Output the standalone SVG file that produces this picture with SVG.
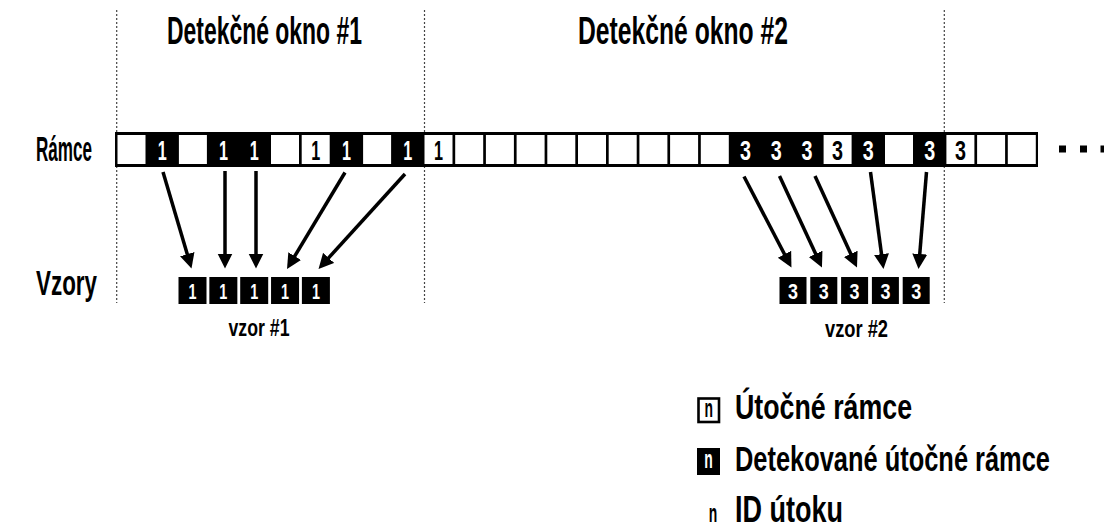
<svg xmlns="http://www.w3.org/2000/svg" width="1104" height="529" viewBox="0 0 1104 529">
  <style>
    .lbl { font-family: "Liberation Sans", Arial, sans-serif; font-weight: bold; fill: #000; }
    .title { font-size: 38px; }
    .row { font-size: 35px; }
    .leg { font-size: 36px; }
    .cap { font-size: 23px; }
    .n { font-size: 25px; text-anchor: middle; }
    .dig { font-family: "Liberation Sans", Arial, sans-serif; font-weight: bold; font-size: 28px; text-anchor: middle; }
    .pdig { font-family: "Liberation Sans", Arial, sans-serif; font-weight: bold; font-size: 22px; text-anchor: middle; fill: #fff; }
    .on-black { fill: #fff; }
    .on-white { fill: #000; }
    .sep { stroke: #444; stroke-width: 1.2; stroke-dasharray: 2 2; fill: none; }
    .cell { fill: #fff; }
    .box { fill: #000; }
    .arrow { stroke: #000; stroke-width: 3.5; fill: none; marker-end: url(#head); }
  </style>
  <defs>
    <marker id="head" markerUnits="userSpaceOnUse" markerWidth="16" markerHeight="16" refX="3" refY="7.5" orient="auto">
      <path d="M0,0 L15,7.5 L0,15 Z" fill="#000"/>
    </marker>
  </defs>

  <rect width="1104" height="529" fill="#fff"/>

  <!-- window separators -->
  <g id="separators">
    <line class="sep" x1="116.7" y1="10" x2="116.7" y2="303"/>
    <line class="sep" x1="424.5" y1="10" x2="424.5" y2="303"/>
    <line class="sep" x1="944.3" y1="10" x2="944.3" y2="303"/>
  </g>

  <!-- headings -->
  <text class="lbl title" x="167" y="44" textLength="195" lengthAdjust="spacingAndGlyphs">Detekčné okno #1</text>
  <text class="lbl title" x="578" y="44" textLength="210" lengthAdjust="spacingAndGlyphs">Detekčné okno #2</text>
  <text class="lbl row" x="36" y="161" textLength="56" lengthAdjust="spacingAndGlyphs">Rámce</text>
  <text class="lbl row" x="36" y="295" textLength="61" lengthAdjust="spacingAndGlyphs">Vzory</text>

  <!-- frame stream: black strip, white cells are plain frames -->
  <g id="frames">
    <rect x="115" y="132" width="923" height="35" fill="#000"/>
    <g class="cell">
      <rect x="117.5" y="135" width="28" height="29"/>
      <rect x="178.9" y="135" width="28" height="29"/>
      <rect x="271.0" y="135" width="28" height="29"/>
      <rect x="301.7" y="135" width="28" height="29"/>
      <rect x="363.1" y="135" width="28" height="29"/>
      <rect x="424.5" y="135" width="28" height="29"/>
      <rect x="455.2" y="135" width="28" height="29"/>
      <rect x="485.9" y="135" width="28" height="29"/>
      <rect x="516.6" y="135" width="28" height="29"/>
      <rect x="547.3" y="135" width="28" height="29"/>
      <rect x="578.0" y="135" width="28" height="29"/>
      <rect x="608.7" y="135" width="28" height="29"/>
      <rect x="639.4" y="135" width="28" height="29"/>
      <rect x="670.1" y="135" width="28" height="29"/>
      <rect x="700.8" y="135" width="28" height="29"/>
      <rect x="823.6" y="135" width="28" height="29"/>
      <rect x="885.0" y="135" width="28" height="29"/>
      <rect x="946.4" y="135" width="28" height="29"/>
      <rect x="977.1" y="135" width="28" height="29"/>
      <rect x="1007.8" y="135" width="28" height="29"/>
    </g>
    <!-- detected attack frames -->
    <g class="dig on-black">
      <text x="162.2" y="160" textLength="9" lengthAdjust="spacingAndGlyphs">1</text>
      <text x="223.6" y="160" textLength="9" lengthAdjust="spacingAndGlyphs">1</text>
      <text x="254.3" y="160" textLength="9" lengthAdjust="spacingAndGlyphs">1</text>
      <text x="346.4" y="160" textLength="9" lengthAdjust="spacingAndGlyphs">1</text>
      <text x="407.8" y="160" textLength="9" lengthAdjust="spacingAndGlyphs">1</text>
      <text x="745.5" y="160" textLength="11" lengthAdjust="spacingAndGlyphs">3</text>
      <text x="776.2" y="160" textLength="11" lengthAdjust="spacingAndGlyphs">3</text>
      <text x="806.9" y="160" textLength="11" lengthAdjust="spacingAndGlyphs">3</text>
      <text x="868.3" y="160" textLength="11" lengthAdjust="spacingAndGlyphs">3</text>
      <text x="929.7" y="160" textLength="11" lengthAdjust="spacingAndGlyphs">3</text>
    </g>
    <!-- undetected attack frames -->
    <g class="dig on-white">
      <text x="315.7" y="160" textLength="9" lengthAdjust="spacingAndGlyphs">1</text>
      <text x="438.5" y="160" textLength="9" lengthAdjust="spacingAndGlyphs">1</text>
      <text x="837.6" y="160" textLength="11" lengthAdjust="spacingAndGlyphs">3</text>
      <text x="960.4" y="160" textLength="11" lengthAdjust="spacingAndGlyphs">3</text>
    </g>
  </g>

  <!-- continuation dots -->
  <g id="more" fill="#000">
    <rect x="1059" y="145.5" width="7" height="7"/>
    <rect x="1080" y="145.5" width="7" height="7"/>
    <rect x="1100.5" y="145.5" width="7" height="7"/>
  </g>

  <!-- pattern #1 -->
  <g id="pattern-1">
    <g class="box">
      <rect x="178.5" y="277" width="28" height="27"/>
      <rect x="209.35" y="277" width="28" height="27"/>
      <rect x="240.2" y="277" width="28" height="27"/>
      <rect x="271.05" y="277" width="28" height="27"/>
      <rect x="301.9" y="277" width="28" height="27"/>
    </g>
    <g class="pdig">
      <text x="192.5" y="299" textLength="8" lengthAdjust="spacingAndGlyphs">1</text>
      <text x="223.35" y="299" textLength="8" lengthAdjust="spacingAndGlyphs">1</text>
      <text x="254.2" y="299" textLength="8" lengthAdjust="spacingAndGlyphs">1</text>
      <text x="285.05" y="299" textLength="8" lengthAdjust="spacingAndGlyphs">1</text>
      <text x="315.9" y="299" textLength="8" lengthAdjust="spacingAndGlyphs">1</text>
    </g>
    <text class="lbl cap" x="228.5" y="336" textLength="61" lengthAdjust="spacingAndGlyphs">vzor #1</text>
  </g>

  <!-- pattern #2 -->
  <g id="pattern-2">
    <g class="box">
      <rect x="779.5" y="277" width="27" height="27"/>
      <rect x="810.3" y="277" width="27" height="27"/>
      <rect x="841.1" y="277" width="27" height="27"/>
      <rect x="871.9" y="277" width="27" height="27"/>
      <rect x="902.7" y="277" width="27" height="27"/>
    </g>
    <g class="pdig">
      <text x="793" y="299" textLength="10" lengthAdjust="spacingAndGlyphs">3</text>
      <text x="823.8" y="299" textLength="10" lengthAdjust="spacingAndGlyphs">3</text>
      <text x="854.6" y="299" textLength="10" lengthAdjust="spacingAndGlyphs">3</text>
      <text x="885.4" y="299" textLength="10" lengthAdjust="spacingAndGlyphs">3</text>
      <text x="916.2" y="299" textLength="10" lengthAdjust="spacingAndGlyphs">3</text>
    </g>
    <text class="lbl cap" x="825" y="337" textLength="63" lengthAdjust="spacingAndGlyphs">vzor #2</text>
  </g>

  <!-- detected frames feeding the patterns -->
  <g id="connectors">
    <line class="arrow" x1="163" y1="172" x2="188.1" y2="257.0"/>
    <line class="arrow" x1="225" y1="171" x2="225" y2="256.5"/>
    <line class="arrow" x1="256" y1="171" x2="256" y2="256.5"/>
    <line class="arrow" x1="345" y1="172.5" x2="293.2" y2="258.7"/>
    <line class="arrow" x1="405" y1="174" x2="326.6" y2="260.1"/>
    <line class="arrow" x1="744" y1="176.5" x2="785.9" y2="256.9"/>
    <line class="arrow" x1="779.5" y1="176" x2="816.9" y2="256.6"/>
    <line class="arrow" x1="815" y1="176" x2="852.0" y2="256.6"/>
    <line class="arrow" x1="870.5" y1="172" x2="881.9" y2="257.1"/>
    <line class="arrow" x1="926.5" y1="172" x2="919.5" y2="257.0"/>
  </g>

  <!-- legend (condensed horizontally by transform) -->
  <g id="legend-attack">
    <rect x="698.5" y="398.5" width="20.5" height="23.5" fill="#fff" stroke="#000" stroke-width="2.6"/>
    <text class="lbl n" x="708.8" y="416.5" textLength="8.5" lengthAdjust="spacingAndGlyphs">n</text>
    <text class="lbl leg" transform="translate(735,419) scale(0.744,1)">Útočné rámce</text>
  </g>
  <g id="legend-detected">
    <rect x="697" y="448" width="23" height="27" fill="#000"/>
    <text class="lbl n" x="708.5" y="468" textLength="8.5" lengthAdjust="spacingAndGlyphs" style="fill:#fff">n</text>
    <text class="lbl leg" transform="translate(735,471) scale(0.706,1)">Detekované útočné rámce</text>
  </g>
  <g id="legend-id">
    <text class="lbl n" x="713" y="522" textLength="8.5" lengthAdjust="spacingAndGlyphs">n</text>
    <text class="lbl leg" transform="translate(735,522) scale(0.75,1)">ID útoku</text>
  </g>
</svg>
